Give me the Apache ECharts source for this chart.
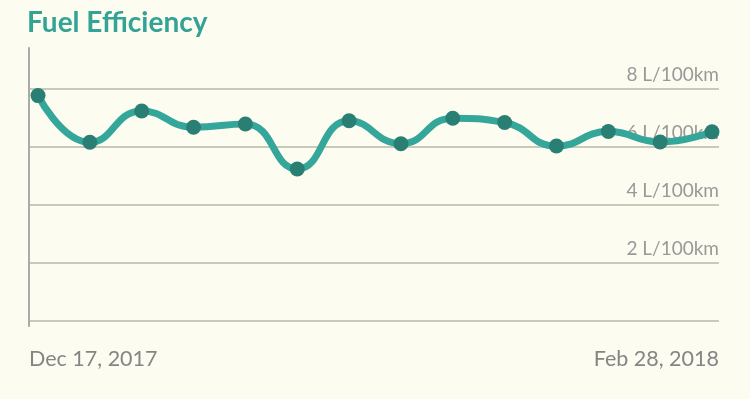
<!DOCTYPE html>
<html>
<head>
<meta charset="utf-8">
<script src="https://cdn.jsdelivr.net/npm/echarts@6/dist/echarts.min.js"></script>
<style>
html,body{margin:0;padding:0;background:#fcfcf0;}
#chart{width:750px;height:399px;}
</style>
</head>
<body>
<div id="chart"></div>
<script>
var titleText = 'Fuel Efficiency';
var dateLabels = ['Dec 17, 2017', 'Feb 28, 2018'];
var efficiency = [7.76, 6.15, 7.23, 6.67, 6.78, 5.23, 6.89, 6.10, 6.98, 6.83, 6.02, 6.52, 6.16, 6.51];
var yUnit = ' L/100km';

var points = efficiency.map(function (v, i) { return [i, v]; });

var chart = echarts.init(document.getElementById('chart'), null, {renderer: 'canvas'});
chart.setOption({
  backgroundColor: '#fcfcf0',
  animation: false,
  title: {
    text: titleText,
    left: 22,
    top: 4,
    textStyle: {fontFamily: 'Lato', fontWeight: 'bold', fontSize: 28, color: '#33a396'}
  },
  grid: {left: 29, right: 31, top: 48, bottom: 78.3, containLabel: false},
  xAxis: [
    {
      type: 'value', min: -0.174, max: 13.135, show: false
    },
    {
      type: 'category', data: dateLabels, boundaryGap: false, position: 'bottom',
      axisLine: {show: false},
      axisTick: {show: true, length: 6, interval: function (idx) { return idx === 0; },
                 lineStyle: {color: '#aaaaaa', width: 2}},
      axisLabel: {margin: 27, fontFamily: 'Lato', fontSize: 21.5, color: '#858585',
                  alignMinLabel: 'left', alignMaxLabel: 'right', interval: 0},
      splitLine: {show: false}
    }
  ],
  yAxis: [
    {
      type: 'value', min: 0, max: 9.4, interval: 2, position: 'left',
      axisLine: {show: true, onZero: false, lineStyle: {color: '#aaaaaa', width: 2}},
      axisTick: {show: false}, axisLabel: {show: false}, splitLine: {show: false}
    },
    {
      type: 'value', min: 0, max: 9.4, interval: 2, position: 'right',
      axisLine: {show: false}, axisTick: {show: false},
      splitLine: {show: true, showMaxLine: false, lineStyle: {color: '#c9c8b9', width: 2}},
      axisLabel: {inside: true, margin: 0, verticalAlign: 'bottom', padding: [0, 0, 4, 0],
                  showMaxLabel: false, showMinLabel: false,
                  fontFamily: 'Lato', fontSize: 19, color: '#999999',
                  formatter: function (v) { return v + yUnit; }}
    }
  ],
  series: [{
    type: 'line',
    xAxisIndex: 0,
    yAxisIndex: 0,
    data: points,
    smooth: 0.5,
    lineStyle: {color: '#35a79a', width: 7},
    symbol: 'circle',
    symbolSize: 15,
    itemStyle: {color: '#2a7f74'},
    z: 5
  }]
});
</script>
</body>
</html>
